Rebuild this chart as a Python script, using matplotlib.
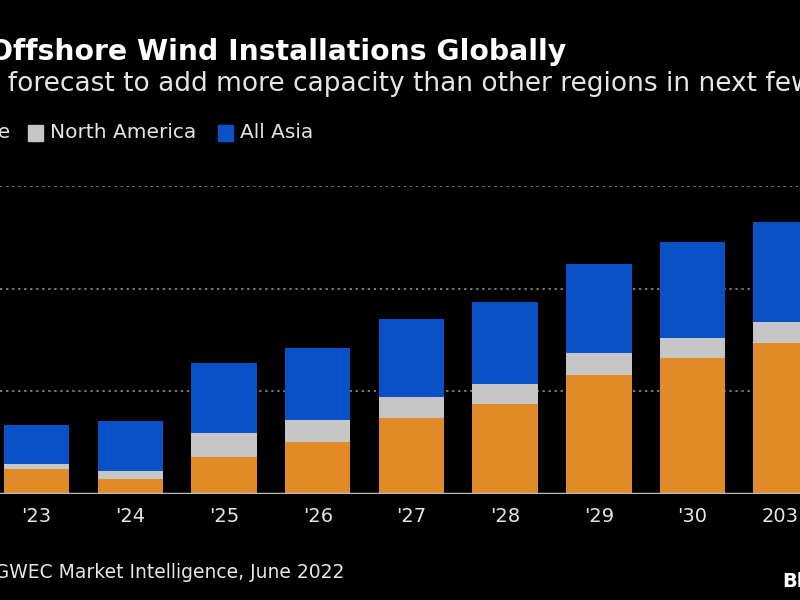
import matplotlib
matplotlib.use("Agg")
import matplotlib.pyplot as plt
from matplotlib.patches import Rectangle

years = ["'23", "'24", "'25", "'26", "'27", "'28", "'29", "'30", "2031"]
europe = [2.4, 1.5, 3.6, 5.1, 7.4, 8.8, 11.6, 13.2, 14.7]
north_america = [0.5, 0.7, 2.3, 2.1, 2.0, 1.9, 2.1, 2.0, 2.1]
all_asia = [3.8, 4.9, 6.9, 7.0, 7.6, 8.0, 8.7, 9.3, 9.7]
series_names = ["Europe", "North America", "All Asia"]

C_EU = "#E08A28"
C_NA = "#C6C6C6"
C_AS = "#0A50C6"
BG = "#000000"
TXT = "#E6E6E6"

plt.rcParams['font.family'] = ['DejaVu Sans']
W, H = 800, 600
fig = plt.figure(figsize=(8, 6), dpi=100, facecolor=BG)
renderer = fig.canvas.get_renderer()

ax_bottom = 1 - 494 / H
ax_top = 1 - 186 / H
ax = fig.add_axes([0, ax_bottom, 1, ax_top - ax_bottom], facecolor=BG)

x = list(range(len(years)))
w = 0.70
ax.bar(x, europe, w, color=C_EU, zorder=3)
b1 = [e for e in europe]
ax.bar(x, north_america, w, bottom=b1, color=C_NA, zorder=3)
b2 = [e + n for e, n in zip(europe, north_america)]
ax.bar(x, all_asia, w, bottom=b2, color=C_AS, zorder=3)

step = 93.7
left = -36.6 / step
ax.set_xlim(left, left + W / step)
ax.set_ylim(0, 30)
for v in [10, 20, 30]:
    ax.axhline(v, color="#7A7A7A", lw=1.4, ls=(0, (1.2, 1.9)), zorder=1)
ax.axhline(0, color="#BDBDBD", lw=2.5, zorder=4)

for s in ax.spines.values():
    s.set_visible(False)
ax.set_yticks([])
ax.set_xticks(x)
ax.set_xticklabels(years, color=TXT, fontsize=14)
ax.tick_params(axis='x', length=0, pad=9)

def fx(px):
    return px / W

def fy(py):
    return 1 - py / H

def text_width(s, **kw):
    t = fig.text(0, 0, s, **kw)
    wpx = t.get_window_extent(renderer).width
    t.remove()
    return wpx

fig.text(fx(-11), fy(60), "Offshore Wind Installations Globally", color="white",
         fontsize=20.3, fontweight="bold", ha="left", va="baseline")

sub_kw = dict(fontsize=19)
pre = "Europe is "
off = text_width(pre + "f", **sub_kw) - text_width("f", **sub_kw)
fig.text(fx(8 - off), fy(91),
         "Europe is forecast to add more capacity than other regions in next few years",
         color=TXT, ha="left", va="baseline", **sub_kw)

# legend
leg_y = 133
sq = 15
items = [(-83, C_EU, "Europe"), (28, C_NA, "North America"), (218, C_AS, "All Asia")]
for px, col, name in items:
    fig.patches.append(Rectangle((fx(px), fy(leg_y + sq / 2)), sq / W, sq / H,
                                 transform=fig.transFigure, color=col, figure=fig))
    fig.text(fx(px + sq + 7), fy(leg_y), name, color=TXT, fontsize=14.5,
             ha="left", va="center")

src_kw = dict(fontsize=13.5)
pre2 = "Source: "
off2 = text_width(pre2 + "G", **src_kw) - text_width("G", **src_kw)
fig.text(fx(-5 - off2), fy(578), "Source: GWEC Market Intelligence, June 2022", color=TXT,
         ha="left", va="baseline", **src_kw)
fig.text(fx(782), fy(587), "Bloomberg", color="white", fontsize=14,
         fontweight="bold", ha="left", va="baseline")

fig.savefig("out.png", dpi=100, facecolor=BG)
